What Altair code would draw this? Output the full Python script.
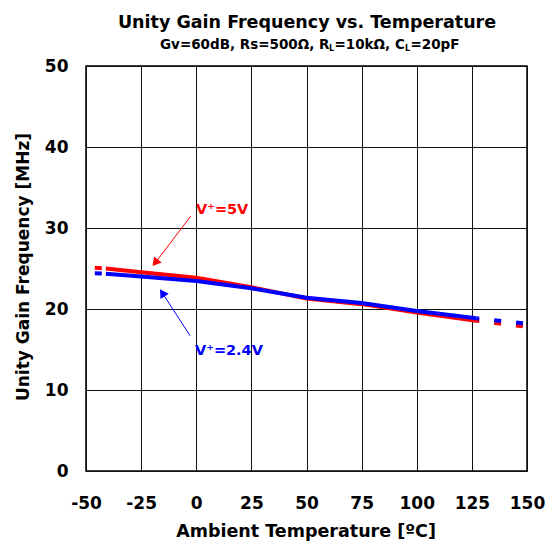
import altair as alt
import pandas as pd

# ---- data ----
temps = [-46, -41, -25, 0, 25, 50, 75, 100, 127, 150]
ugf_5v = [25.1, 25.0, 24.55, 23.85, 22.7, 21.3, 20.6, 19.55, 18.55, 17.8]
ugf_24v = [24.4, 24.35, 24.0, 23.45, 22.55, 21.4, 20.75, 19.75, 18.85, 18.2]
x_ticks = [-50, -25, 0, 25, 50, 75, 100, 125, 150]
y_ticks = [0, 10, 20, 30, 40, 50]

title_main = "Unity Gain Frequency vs. Temperature"
# subtitle pieces (subscripts drawn smaller and lower)
sub_pieces = ["Gv=60dB, Rs=500Ω, R", "L", "=10kΩ, C", "L", "=20pF"]
sub_is_sub = [False, True, False, True, False]
sub_x = [160, 329, 334.5, 405, 410.5]

lab_5v = "V⁺=5V"
lab_24v = "V⁺=2.4V"
# arrow (start temp, start val, head temp, head val, angle)
arrow_5v = [-2.4, 31.5, -18.6, 25.7, 219]
arrow_24v = [-2.8, 16.7, -15.4, 22.0, 327]

RED = "#ff0000"
BLUE = "#0000ff"
FONT = "DejaVu Sans"

W, H = 441, 405
X0, Y0 = 86, 66

xs = alt.Scale(domain=[-50, 150], nice=False, zero=False)
ys = alt.Scale(domain=[0, 50], nice=False, zero=False)

def seg(vals, i0, i1):
    return pd.DataFrame({"t": temps[i0:i1 + 1], "f": vals[i0:i1 + 1]})

x_axis = alt.Axis(values=x_ticks, title="Ambient Temperature [ºC]", labelFont=FONT,
                  labelFontSize=17, labelFontWeight="bold", labelColor="black",
                  labelPadding=24, ticks=False, domain=False, grid=True,
                  gridColor="#111111", gridWidth=1, gridOpacity=1,
                  labelFlush=False, labelOverlap=False, labelExpr="'' + datum.value",
                  titleFont=FONT, titleFontSize=17.5, titleFontWeight="bold",
                  titleColor="black", titleY=60, titleBaseline="middle",
                  titleX=W / 2 - 1)
y_axis = alt.Axis(values=y_ticks, title="Unity Gain Frequency [MHz]", labelFont=FONT,
                  labelFontSize=17, labelFontWeight="bold", labelColor="black",
                  labelPadding=18, ticks=False, domain=False, grid=True,
                  gridColor="#111111", gridWidth=1, gridOpacity=1,
                  labelFlush=False, labelOverlap=False, labelExpr="'' + datum.value",
                  titleFont=FONT, titleFontSize=17, titleFontWeight="bold",
                  titleColor="black", titleX=23 - X0, titleY=H / 2 - 2,
                  titleBaseline="middle", titleAngle=270)

def X(field):
    return alt.X(field, scale=xs, axis=x_axis)

def Y(field):
    return alt.Y(field, scale=ys, axis=y_axis)

def line_layer(vals, color, i0, i1, dash=None, offset=None):
    kw = dict(color=color, strokeWidth=4)
    if dash is not None:
        kw["strokeDash"] = dash
        kw["strokeCap"] = "butt"
    if offset is not None:
        kw["strokeDashOffset"] = offset
    return alt.Chart(seg(vals, i0, i1)).mark_line(**kw).encode(x=X("t:Q"), y=Y("f:Q"))

layers = []
for vals, col in [(ugf_5v, RED), (ugf_24v, BLUE)]:
    layers.append(line_layer(vals, col, 1, 8))
    layers.append(line_layer(vals, col, 0, 1, dash=[7, 15]))
    layers.append(line_layer(vals, col, 8, 9, dash=[7, 15], offset=4))

# arrows
for arr, col in [(arrow_5v, RED), (arrow_24v, BLUE)]:
    df = pd.DataFrame({"t": [arr[0]], "f": [arr[1]], "t2": [arr[2]], "f2": [arr[3]]})
    layers.append(alt.Chart(df).mark_rule(color=col, strokeWidth=1).encode(
        x=X("t:Q"), y=Y("f:Q"), x2="t2:Q", y2="f2:Q"))
    layers.append(alt.Chart(df).mark_point(shape="triangle-up", filled=True, color=col,
                                           opacity=1, size=95, angle=arr[4]).encode(
        x=X("t2:Q"), y=Y("f2:Q")))

# labels
for txt, col, px, py in [(lab_5v, RED, 196, 210), (lab_24v, BLUE, 195, 351)]:
    layers.append(alt.Chart(pd.DataFrame({"s": [txt]})).mark_text(
        color=col, font=FONT, fontSize=14.5, fontWeight="bold", align="left",
        baseline="middle").encode(x=alt.value(px - X0), y=alt.value(py - Y0), text="s:N"))

# titles
layers.append(alt.Chart(pd.DataFrame({"s": [title_main]})).mark_text(
    color="black", font=FONT, fontSize=17.5, fontWeight="bold", align="center",
    baseline="alphabetic").encode(x=alt.value(307 - X0), y=alt.value(28 - Y0), text="s:N"))
for txt, issub, px in zip(sub_pieces, sub_is_sub, sub_x):
    layers.append(alt.Chart(pd.DataFrame({"s": [txt]})).mark_text(
        color="black", font=FONT, fontSize=8 if issub else 13.5, fontWeight="bold",
        align="left", baseline="alphabetic").encode(
        x=alt.value(px - X0), y=alt.value((51 if issub else 49) - Y0), text="s:N"))

chart = alt.layer(*layers).properties(
    width=W, height=H,
    autosize=alt.AutoSizeParams(type="none"),
    padding={"left": X0, "top": Y0, "right": 555 - X0 - W, "bottom": 543 - Y0 - H},
    background="white",
).configure_view(stroke="black", strokeWidth=1.5)

chart.save("out.html", embed_options={"renderer": "svg", "actions": False})
